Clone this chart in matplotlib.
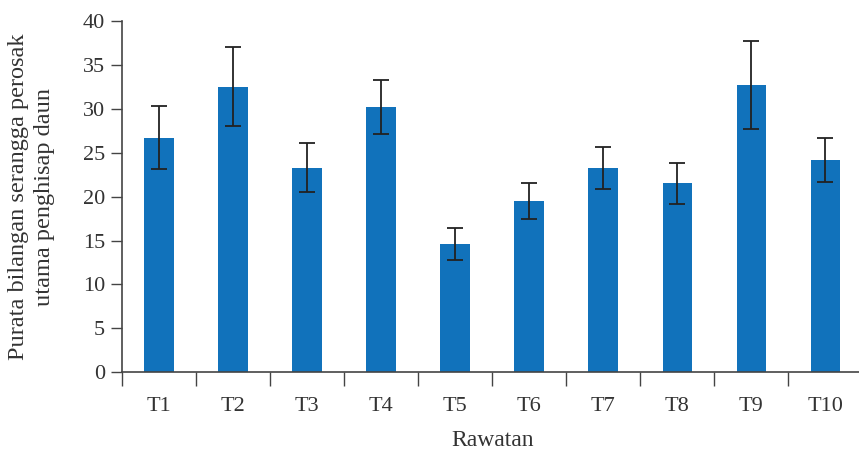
import matplotlib.pyplot as plt
import numpy as np

plt.rcParams['font.family'] = ['Liberation Serif', 'DejaVu Serif']

# mean pest counts per treatment with standard error
treatments = ['T1', 'T2', 'T3', 'T4', 'T5', 'T6', 'T7', 'T8', 'T9', 'T10']
means = [26.7, 32.5, 23.3, 30.2, 14.6, 19.5, 23.3, 21.5, 32.7, 24.2]
errors = [3.6, 4.5, 2.8, 3.1, 1.8, 2.0, 2.4, 2.3, 5.0, 2.5]

text_color = '#333333'
line_color = '#444444'

fig = plt.figure(figsize=(8.59, 4.5), dpi=100)
ax = fig.add_axes([0.142, 0.173, 0.862, 0.78])

x = np.arange(len(treatments))
ax.bar(x, means, width=0.4, color='#1172bb', zorder=2)
ax.errorbar(x, means, yerr=errors, fmt='none', ecolor='#222222',
            elinewidth=1.3, capsize=5.8, capthick=1.3, zorder=3)

ax.set_xlim(-0.5, 9.5)
ax.set_ylim(0, 40)
ax.set_yticks(np.arange(0, 41, 5))

# category boundaries as major ticks, labels on minor ticks at centres
ax.set_xticks(np.arange(-0.5, 9.5, 1.0))
ax.set_xticklabels([])
ax.set_xticks(x, minor=True)
ax.set_xticklabels(treatments, minor=True)
ax.tick_params(axis='x', which='major', direction='out', length=10, width=1, color=line_color)
ax.tick_params(axis='x', which='minor', length=0, pad=18, labelsize=16, labelcolor=text_color)
ax.tick_params(axis='y', direction='out', length=8, width=1, color=line_color,
               pad=4, labelsize=16, labelcolor=text_color)

for side in ['top', 'right']:
    ax.spines[side].set_visible(False)
for side in ['left', 'bottom']:
    ax.spines[side].set_color(line_color)
    ax.spines[side].set_linewidth(1.2)

ax.set_xlabel('Rawatan', fontsize=17, color=text_color, labelpad=10)
ax.set_ylabel('Purata bilangan serangga perosak\nutama penghisap daun',
              fontsize=17.5, color=text_color, labelpad=20, linespacing=1.3)

plt.savefig('out.png', dpi=100)
